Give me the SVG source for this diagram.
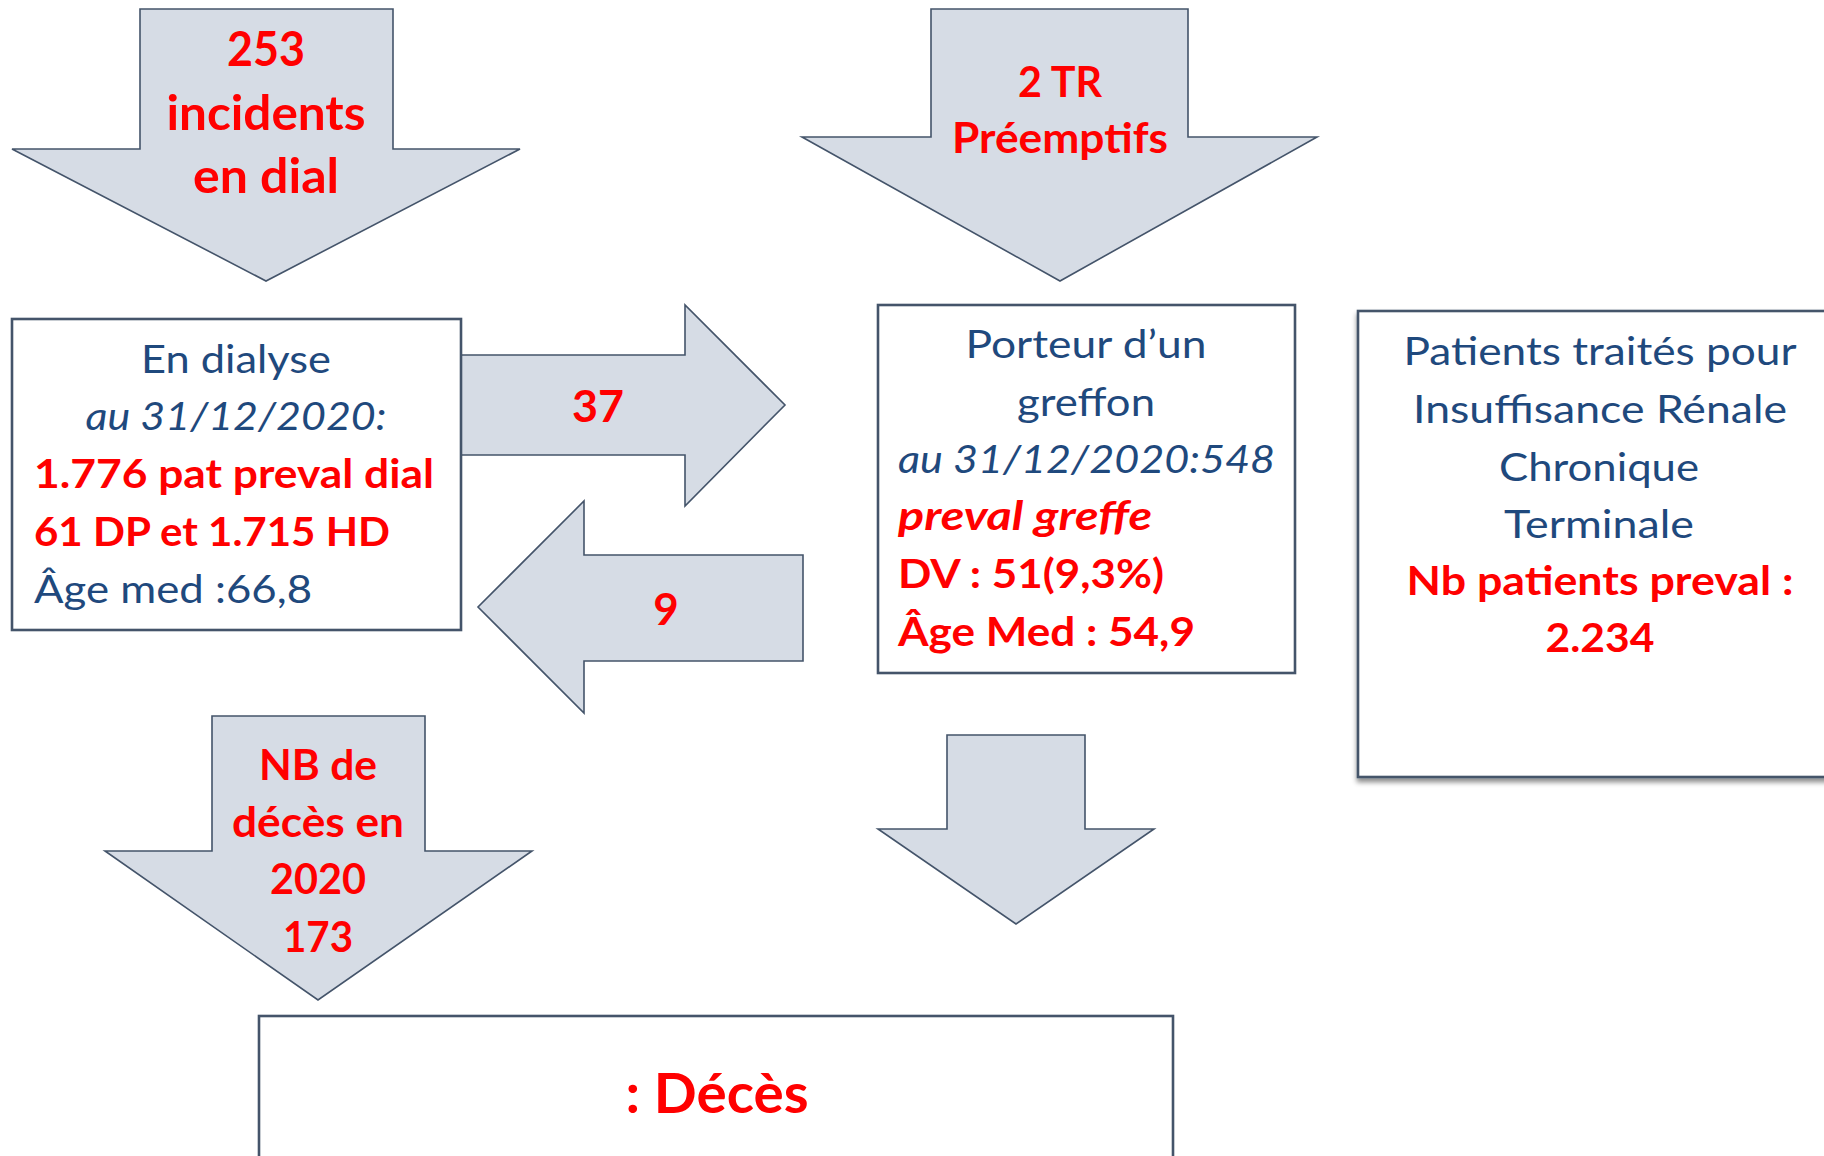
<svg xmlns="http://www.w3.org/2000/svg" width="1824" height="1156" viewBox="0 0 1824 1156">
<style>
.arrow{fill:#D6DCE5;stroke:#44546A;stroke-width:1.6;stroke-linejoin:miter}
.box{fill:#FFFFFF;stroke:#44546A;stroke-width:2.6}
text{font-family:Lato,"Open Sans","Liberation Sans",sans-serif}
.red{fill:#FF0000;font-weight:bold}
.blue{fill:#1F497D}
.it{font-style:italic}
.c{text-anchor:middle}
</style>
<defs>
<filter id="shadow" x="-5%" y="-5%" width="110%" height="115%">
<feDropShadow dx="0" dy="4" stdDeviation="2.5" flood-color="#000" flood-opacity="0.45"/>
</filter>
</defs>
<rect width="1824" height="1156" fill="#FFFFFF"/>
<g id="connectors">
<g id="arrow-incidents">
<polygon class="arrow" points="140,9 393,9 393,149 520,149 266,281 12,149 140,149"/>
<text class="red c" x="266" y="66" font-size="48" textLength="78" lengthAdjust="spacingAndGlyphs">253</text>
<text class="red c" x="266" y="130" font-size="48" textLength="199" lengthAdjust="spacingAndGlyphs">incidents</text>
<text class="red c" x="266" y="193" font-size="48" textLength="146" lengthAdjust="spacingAndGlyphs">en dial</text>
</g>
<g id="arrow-preemptifs">
<polygon class="arrow" points="931,9 1188,9 1188,137 1317,137 1060,281 802,137 931,137"/>
<text class="red c" x="1060" y="97" font-size="42" textLength="84" lengthAdjust="spacingAndGlyphs">2 TR</text>
<text class="red c" x="1060" y="153" font-size="42" textLength="216" lengthAdjust="spacingAndGlyphs">Préemptifs</text>
</g>
<g id="arrow-37">
<polygon class="arrow" points="461,355 685,355 685,305 785,405 685,506 685,455 461,455"/>
<text class="red c" x="598" y="422" font-size="44" textLength="52" lengthAdjust="spacingAndGlyphs">37</text>
</g>
<g id="arrow-9">
<polygon class="arrow" points="803,555 584,555 584,501 478,607 584,713 584,661 803,661"/>
<text class="red c" x="666" y="625" font-size="44">9</text>
</g>
<g id="arrow-deces">
<polygon class="arrow" points="212,716 425,716 425,851 532,851 318,1000 105,851 212,851"/>
<text class="red c" x="318" y="780" font-size="42" textLength="118" lengthAdjust="spacingAndGlyphs">NB de</text>
<text class="red c" x="318" y="837" font-size="42" textLength="172" lengthAdjust="spacingAndGlyphs">décès en</text>
<text class="red c" x="318" y="894" font-size="42" textLength="96" lengthAdjust="spacingAndGlyphs">2020</text>
<text class="red c" x="318" y="952" font-size="42" textLength="70" lengthAdjust="spacingAndGlyphs">173</text>
</g>
<g id="arrow-greffe-deces">
<polygon class="arrow" points="947,735 1085,735 1085,829 1154,829 1016,924 878,829 947,829"/>
</g>
</g>
<g id="node-dialyse">
<rect class="box" x="12" y="319" width="449" height="311"/>
<text class="blue c" x="236" y="373" font-size="39" textLength="190" lengthAdjust="spacingAndGlyphs">En dialyse</text>
<text class="blue it c" x="236" y="430" font-size="39" textLength="301" lengthAdjust="spacingAndGlyphs">au 31/12/2020:</text>
<text class="red" x="34" y="488" font-size="40" textLength="400" lengthAdjust="spacingAndGlyphs">1.776 pat preval dial</text>
<text class="red" x="34" y="546" font-size="40" textLength="356" lengthAdjust="spacingAndGlyphs">61 DP et 1.715 HD</text>
<text class="blue" x="34" y="603" font-size="39" textLength="278" lengthAdjust="spacingAndGlyphs">Âge med :66,8</text>
</g>
<g id="node-greffon">
<rect class="box" x="878" y="305" width="417" height="368"/>
<text class="blue c" x="1086" y="358" font-size="39" textLength="241" lengthAdjust="spacingAndGlyphs">Porteur d’un</text>
<text class="blue c" x="1086" y="416" font-size="39" textLength="138" lengthAdjust="spacingAndGlyphs">greffon</text>
<text class="blue it" x="898" y="473" font-size="39" textLength="377" lengthAdjust="spacingAndGlyphs">au 31/12/2020:548</text>
<text class="red it" x="898" y="530" font-size="40" textLength="254" lengthAdjust="spacingAndGlyphs">preval greffe</text>
<text class="red" x="898" y="588" font-size="40" textLength="266" lengthAdjust="spacingAndGlyphs">DV : 51(9,3%)</text>
<text class="red" x="898" y="646" font-size="40" textLength="297" lengthAdjust="spacingAndGlyphs">Âge Med : 54,9</text>
</g>
<g id="node-irct">
<rect class="box" x="1358" y="311" width="480" height="466" filter="url(#shadow)"/>
<text class="blue c" x="1600" y="365" font-size="39" textLength="393" lengthAdjust="spacingAndGlyphs">Patients traités pour</text>
<text class="blue c" x="1600" y="423" font-size="39" textLength="374" lengthAdjust="spacingAndGlyphs">Insuffisance Rénale</text>
<text class="blue c" x="1599" y="481" font-size="39" textLength="200" lengthAdjust="spacingAndGlyphs">Chronique</text>
<text class="blue c" x="1599" y="538" font-size="39" textLength="190" lengthAdjust="spacingAndGlyphs">Terminale</text>
<text class="red c" x="1600" y="595" font-size="40" textLength="387" lengthAdjust="spacingAndGlyphs">Nb patients preval :</text>
<text class="red c" x="1600" y="652" font-size="40" textLength="109" lengthAdjust="spacingAndGlyphs">2.234</text>
</g>
<g id="node-deces">
<rect class="box" x="259" y="1016" width="914" height="160"/>
<text class="red c" x="717" y="1113" font-size="55" textLength="183" lengthAdjust="spacingAndGlyphs">: Décès</text>
</g>
</svg>
